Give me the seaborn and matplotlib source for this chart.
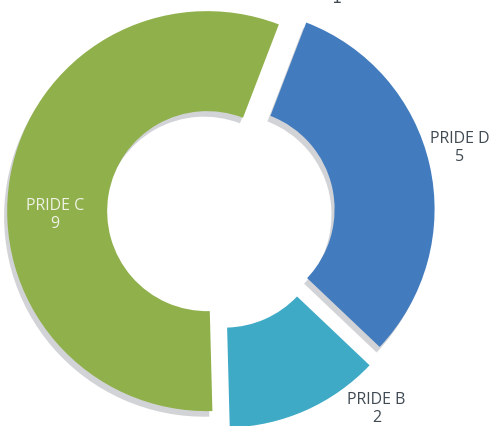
import matplotlib
matplotlib.use("Agg")
import matplotlib.pyplot as plt
import matplotlib.patheffects as pe
import seaborn as sns

#%% data
names  = ['PRIDE D', 'PRIDE B', 'PRIDE C']
counts = [5, 2, 9]
top_label = '1'   # label sitting above the chart, cut by the figure edge

#%% styles
cl      = ['#427cbe', '#3eaac6', '#90b04b']
explode = [0.085, 0.08, 0.055]
txt_cl  = ['#404a53', '#404a53', '#eef2e4']
# label positions, in units of the outer radius
lab_xy  = [(1.21, 0.32), (0.793, -0.985), (-0.815, -0.015)]
shadow  = [True, False, True]

sns.set_theme(style="white")
plt.rcParams['font.family'] = ['Open Sans', 'DejaVu Sans']

fig = plt.figure(figsize=(4.9, 4.27), dpi=100)
ax = fig.add_axes([0, 0, 1, 1])

wedges, _ = ax.pie(counts, startangle=69, counterclock=False,
                   explode=explode, colors=cl, radius=1.0, center=(0, -0.01),
                   wedgeprops=dict(width=0.5, linewidth=0))

# soft grey drop shadow
for w, s in zip(wedges, shadow):
    if s:
        w.set_path_effects([pe.SimplePatchShadow(offset=(-2.2, -4.0),
                                                 shadow_rgbFace='#d2d3d7',
                                                 alpha=1.0),
                            pe.Normal()])

# data labels
for k in range(len(counts)):
    ax.text(lab_xy[k][0], lab_xy[k][1], names[k] + '\n' + '%d' % counts[k],
            ha='center', va='center', fontsize=11.5, color=txt_cl[k],
            linespacing=1.12)

ax.text(0.59, 1.043, top_label, ha='center', va='baseline',
        fontsize=11.5, color='#404a53', family=['DejaVu Sans'])

ax.set_xlim(-1.09, 1.36)
ax.set_ylim(-1.075, 1.06)
ax.set_axis_off()

fig.savefig('out.png', dpi=100)
